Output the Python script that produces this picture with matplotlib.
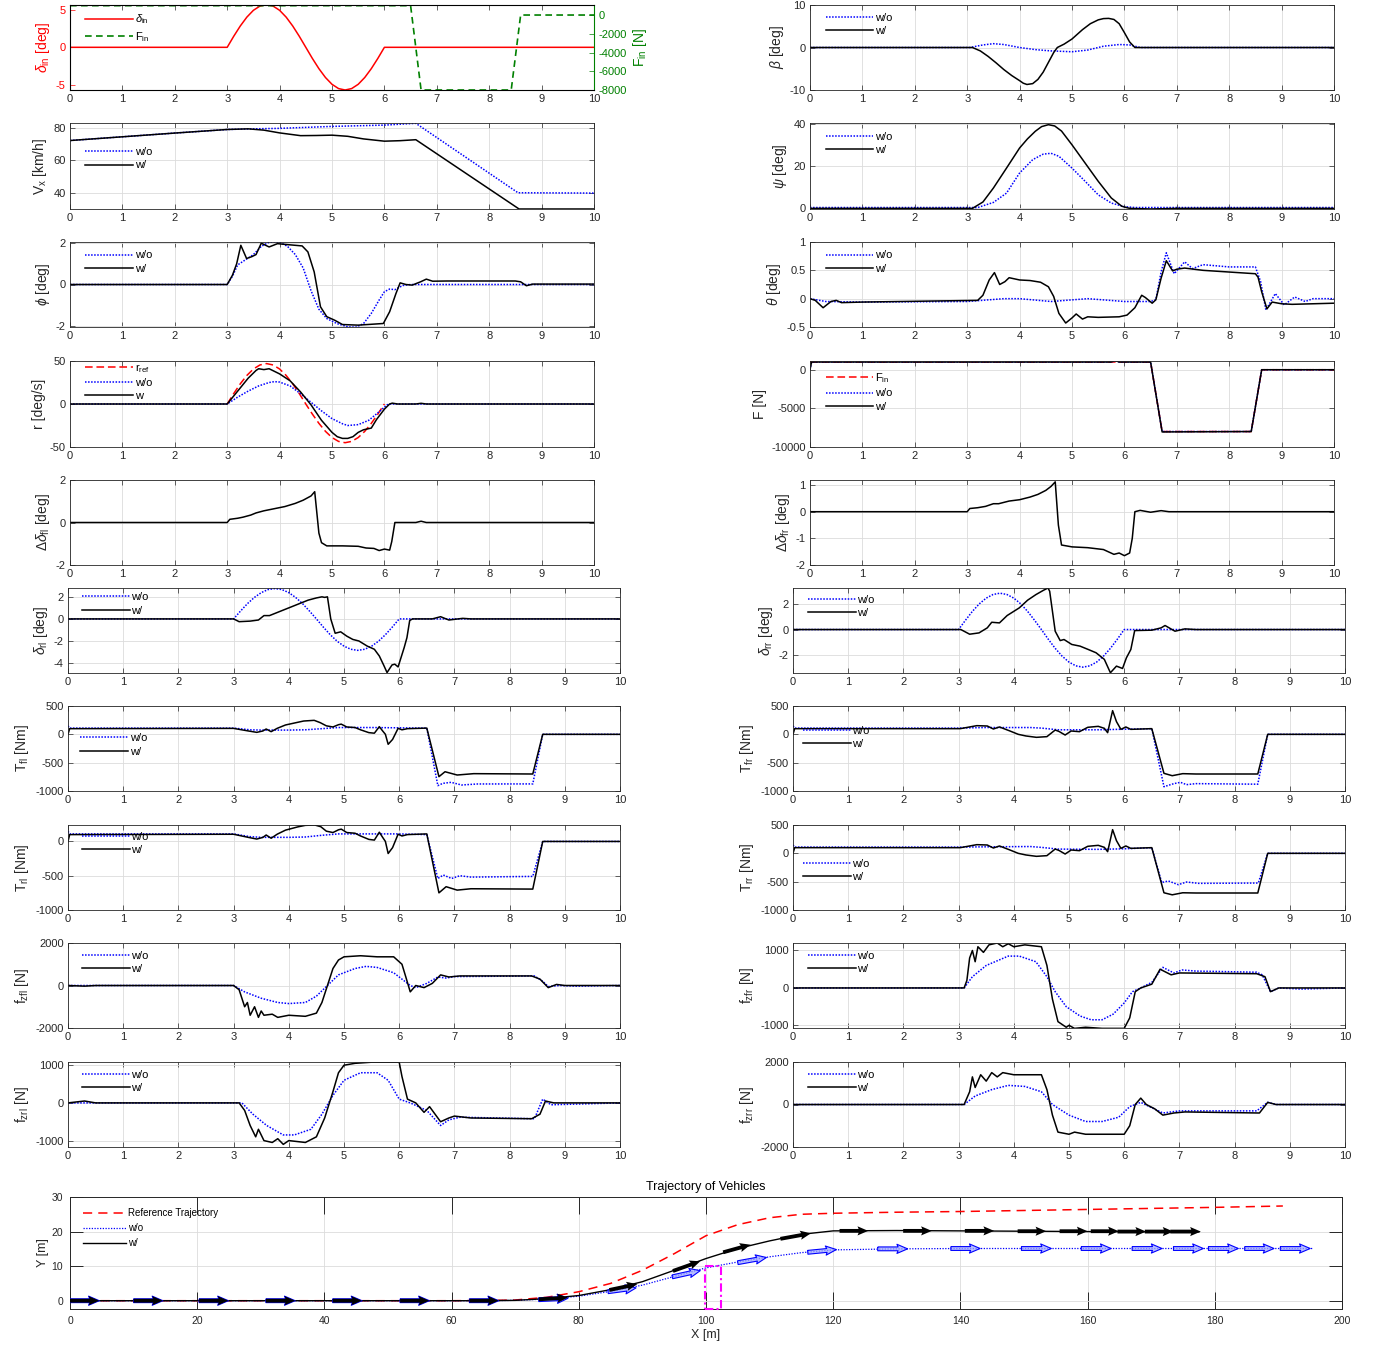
import matplotlib
matplotlib.use('Agg')
import matplotlib.pyplot as plt
from matplotlib.ticker import FuncFormatter

plt.rcParams['font.family'] = ['Liberation Sans', 'DejaVu Sans']
plt.rcParams['mathtext.fontset'] = 'custom'
plt.rcParams['mathtext.rm'] = 'Liberation Sans'
plt.rcParams['mathtext.it'] = 'Liberation Sans:italic'
plt.rcParams['mathtext.bf'] = 'Liberation Sans:bold'
plt.rcParams['axes.unicode_minus'] = False

# ---------------- data ----------------
t_sine = [3.0, 3.125, 3.25, 3.375, 3.5, 3.625, 3.75, 3.875, 4.0, 4.125, 4.25, 4.375, 4.5,
          4.625, 4.75, 4.875, 5.0, 5.125, 5.25, 5.375, 5.5, 5.625, 5.75, 5.875, 6.0]
d_in = [0, 1.48, 2.85, 4.03, 4.94, 5.51, 5.7, 5.51, 4.94, 4.03, 2.85, 1.48, 0,
        -1.48, -2.85, -4.03, -4.94, -5.51, -5.7, -5.51, -4.94, -4.03, -2.85, -1.48, 0]
r_ref = [0, 12.2, 23.5, 33.2, 40.7, 45.4, 47, 45.4, 40.7, 33.2, 23.5, 12.2, 0,
         -11.7, -22.5, -31.8, -39.0, -43.5, -45, -43.5, -39.0, -31.8, -22.5, -11.7, 0]
drl_wo = [0, 0.71, 1.38, 1.94, 2.38, 2.66, 2.75, 2.66, 2.38, 1.94, 1.38, 0.71, 0,
          -0.74, -1.43, -2.02, -2.47, -2.75, -2.85, -2.75, -2.47, -2.02, -1.43, -0.74, 0]
drr_wo = [0, 0.72, 1.4, 1.98, 2.42, 2.7, 2.8, 2.7, 2.42, 1.98, 1.4, 0.72, 0,
          -0.75, -1.45, -2.05, -2.51, -2.8, -2.9, -2.8, -2.51, -2.05, -1.45, -0.75, 0]

Fin_t = [0, 6.5, 6.7, 8.42, 8.6, 10]
Fin = [1000, 1000, -8000, -8000, 0, 0]

vx_wo_t = [0, 1, 2, 3, 3.5, 4, 4.5, 5, 5.5, 6, 6.6, 8.55, 10]
vx_wo = [72.2, 74.5, 76.8, 79.0, 79.4, 79.7, 80.3, 80.9, 81.3, 81.7, 82.8, 40.0, 39.8]
vx_w_t = [0, 1, 2, 3, 3.4, 3.7, 4.0, 4.4, 4.7, 5.0, 5.3, 5.6, 6.0, 6.3, 6.6, 8.57, 10]
vx_w = [72.2, 74.5, 76.8, 79.0, 79.4, 78.6, 76.9, 75.2, 75.3, 75.5, 74.8, 73.2, 71.8, 72.1, 72.7, 30.0, 30.0]

phi_wo_t = [0, 3.0, 3.1, 3.2, 3.35, 3.5, 3.65, 3.8, 3.9, 4.0, 4.15, 4.3, 4.45, 4.6, 4.75, 4.9,
            5.1, 5.3, 5.45, 5.6, 5.75, 5.9, 6.0, 6.1, 6.2, 6.35, 6.5, 10]
phi_wo = [0, 0, 0.4, 0.95, 1.2, 1.45, 1.85, 2.05, 2.07, 2.05, 1.85, 1.45, 0.8, -0.3, -1.2, -1.65,
          -1.9, -2.05, -2.07, -1.9, -1.4, -0.75, -0.35, -0.22, -0.25, -0.05, 0, 0]
phi_w_t = [0, 3.0, 3.1, 3.18, 3.26, 3.37, 3.47, 3.55, 3.65, 3.8, 3.96, 4.12, 4.43, 4.54, 4.66, 4.78,
           4.9, 5.05, 5.2, 5.5, 5.98, 6.1, 6.22, 6.3, 6.41, 6.53, 6.69, 6.8, 6.92, 7.2, 8.5, 8.6,
           8.71, 8.83, 10]
phi_w = [0, 0, 0.45, 1.0, 1.9, 1.26, 1.35, 1.45, 2.0, 1.82, 1.98, 1.94, 1.87, 1.58, 0.61, -1.08,
         -1.56, -1.73, -1.94, -1.97, -1.89, -1.32, -0.44, 0.08, 0, -0.03, 0.13, 0.26, 0.16, 0.17,
         0.17, 0.13, -0.06, 0.02, 0.02]

r_wo_t = [0, 3.0, 3.2, 3.4, 3.6, 3.8, 3.9, 4.0, 4.2, 4.4, 4.6, 4.8, 5.0, 5.2, 5.3, 5.5, 5.7,
          5.9, 6.05, 6.1, 10]
r_wo = [0, 0, 8, 15, 21, 25, 26, 25.5, 21, 12, 2, -8, -17, -23, -25, -24, -19, -9, -1, 0, 0]
r_w_t = [0, 3.0, 3.2, 3.4, 3.55, 3.6, 3.7, 3.8, 3.9, 4.0, 4.2, 4.4, 4.6, 4.8, 5.0, 5.1, 5.2,
         5.3, 5.4, 5.5, 5.6, 5.75, 5.85, 6.0, 6.1, 6.15, 6.25, 6.6, 6.7, 6.8, 10]
r_w = [0, 0, 15, 30, 39, 41, 40, 41, 38, 35, 27, 14, -1, -19, -33, -38, -40, -40, -38, -33, -30,
       -28, -18, -6, 0, 1, 0, 0, 0.8, 0, 0]

ddfl_t = [0, 3.0, 3.05, 3.2, 3.3, 3.45, 3.55, 3.7, 3.9, 4.1, 4.3, 4.45, 4.6, 4.67, 4.75, 4.8,
          4.9, 5.2, 5.5, 5.65, 5.8, 5.9, 6.0, 6.1, 6.14, 6.2, 6.6, 6.7, 6.8, 10]
ddfl = [0, 0, 0.15, 0.2, 0.25, 0.35, 0.45, 0.55, 0.65, 0.75, 0.9, 1.05, 1.25, 1.45, -0.5, -0.95,
        -1.1, -1.1, -1.12, -1.2, -1.22, -1.32, -1.25, -1.3, -0.9, 0, 0, 0.06, 0, 0]

beta_wo_t = [0, 3.05, 3.3, 3.5, 3.7, 4.0, 4.3, 4.6, 5.0, 5.3, 5.6, 5.9, 6.1, 6.3, 10]
beta_wo = [0, 0, 0.6, 0.9, 0.7, 0, -0.5, -0.8, -1.0, -0.6, 0.3, 0.7, 0.6, 0, 0]
beta_w_t = [0, 3.1, 3.25, 3.4, 3.55, 3.7, 3.85, 4.0, 4.07, 4.14, 4.25, 4.35, 4.45, 4.55, 4.65,
            4.72, 4.85, 5.0, 5.2, 5.35, 5.5, 5.6, 5.7, 5.8, 5.9, 6.0, 6.1, 6.2, 10]
beta_w = [0, 0, -0.8, -2.1, -3.6, -5.2, -6.6, -7.8, -8.4, -8.7, -8.5, -7.5, -5.8, -3.5, -1.2,
          0, 0.8, 2.0, 4.2, 5.6, 6.5, 6.8, 6.85, 6.6, 5.6, 3.5, 1.3, 0, 0]

psi_wo_t = [0, 3.2, 3.5, 3.75, 4.0, 4.25, 4.45, 4.6, 4.75, 5.0, 5.25, 5.5, 5.75, 6.0, 6.2, 10]
psi_wo = [0.4, 0.4, 2.8, 7.2, 16.7, 23, 25.6, 26, 24.6, 19, 12.8, 6.4, 2.5, 0.8, 0.4, 0.4]
psi_w_t = [0, 3.1, 3.3, 3.5, 3.75, 4.0, 4.15, 4.3, 4.42, 4.55, 4.67, 4.8, 5.0, 5.25, 5.5, 5.75,
           5.95, 6.1, 6.5, 7.0, 10]
psi_w = [0, 0, 3, 9.6, 19, 28.5, 32.8, 36.4, 38.6, 39.5, 38.9, 36.5, 30, 21.4, 12.8, 4.9, 1.0,
         0, -0.3, 0, 0]

theta_wo_t = [0, 0.3, 1.0, 3.0, 3.7, 4.0, 4.6, 5.3, 6.0, 6.5, 6.6, 6.7, 6.8, 6.95, 7.15, 7.3,
              7.5, 8.0, 8.5, 8.6, 8.7, 8.88, 9.05, 9.25, 9.45, 9.6, 10]
theta_wo = [0, -0.05, -0.06, -0.05, 0, 0, -0.05, 0, -0.05, -0.05, -0.02, 0.47, 0.81, 0.44, 0.65,
            0.53, 0.6, 0.56, 0.56, 0.3, -0.2, 0.09, -0.11, 0.03, -0.05, 0, 0]
theta_w_t = [0, 0.1, 0.25, 0.4, 0.5, 0.6, 1.0, 3.2, 3.3, 3.42, 3.52, 3.62, 3.72, 3.8, 4.0, 4.2,
             4.4, 4.55, 4.65, 4.75, 4.88, 5.0, 5.08, 5.2, 5.3, 5.5, 5.9, 6.05, 6.2, 6.33, 6.4,
             6.53, 6.6, 6.7, 6.8, 6.92, 7.0, 7.15, 7.5, 8.5, 8.55, 8.62, 8.72, 8.82, 9.0, 9.2, 10]
theta_w = [0, -0.03, -0.16, -0.05, -0.03, -0.07, -0.06, -0.03, 0.06, 0.33, 0.46, 0.25, 0.3, 0.37,
           0.33, 0.32, 0.29, 0.21, 0.04, -0.26, -0.43, -0.34, -0.27, -0.36, -0.32, -0.33, -0.32,
           -0.29, -0.16, 0.06, 0.02, -0.08, -0.02, 0.36, 0.67, 0.49, 0.52, 0.54, 0.5, 0.44, 0.38,
           0.12, -0.18, -0.06, -0.09, -0.1, -0.08]

F_t = [0, 0.03, 5.75, 5.82, 5.9, 6.5, 6.72, 8.42, 8.62, 10]
F_ref = [1000, 1000, 1000, 1000, 1000, 1000, -8000, -8000, 0, 0]
F_wo = [0, 1000, 1000, 1150, 1000, 1000, -8000, -8000, 0, 0]
F_w = [0, 1000, 1000, 1200, 1000, 1000, -8050, -8000, 0, 0]

ddfr_t = [0, 3.0, 3.05, 3.2, 3.35, 3.5, 3.6, 3.8, 4.0, 4.2, 4.35, 4.5, 4.6, 4.68, 4.74, 4.8,
          5.0, 5.3, 5.6, 5.8, 5.9, 6.0, 6.1, 6.15, 6.2, 6.3, 6.5, 6.7, 6.85, 10]
ddfr = [0, 0, 0.12, 0.15, 0.2, 0.3, 0.3, 0.4, 0.45, 0.55, 0.65, 0.8, 0.95, 1.12, -0.5, -1.25,
        -1.32, -1.35, -1.42, -1.6, -1.55, -1.65, -1.55, -1.0, 0, 0.05, -0.02, 0.04, 0, 0]

drl_w_t = [0, 3.0, 3.1, 3.3, 3.45, 3.55, 3.65, 3.75, 3.9, 4.05, 4.2, 4.35, 4.5, 4.6, 4.65, 4.7,
           4.76, 4.84, 4.94, 5.05, 5.16, 5.27, 5.42, 5.55, 5.64, 5.72, 5.78, 5.87, 5.92, 5.98,
           6.09, 6.14, 6.19, 6.24, 6.6, 6.75, 6.9, 7.15, 7.3, 10]
drl_w = [0, 0, -0.25, -0.2, -0.1, 0.3, 0.3, 0.5, 0.8, 1.1, 1.4, 1.7, 1.9, 2.0, 1.95, 2.0,
         0, -1.3, -1.17, -1.56, -1.86, -2.0, -2.46, -2.75, -3.36, -4.2, -4.86, -4.17, -4.1, -4.35,
         -2.6, -1.7, -0.15, 0, 0, 0.2, -0.1, 0.05, 0, 0]

drr_w_t = [0, 3.04, 3.2, 3.37, 3.52, 3.6, 3.74, 3.88, 4.1, 4.25, 4.4, 4.54, 4.62, 4.65, 4.7,
           4.75, 4.84, 4.91, 5.05, 5.2, 5.35, 5.49, 5.64, 5.75, 5.86, 5.97, 6.04, 6.12, 6.19,
           6.5, 6.67, 6.74, 6.92, 7.1, 7.3, 10]
drr_w = [0, 0, -0.36, -0.26, 0.13, 0.56, 0.51, 1.08, 1.67, 2.26, 2.69, 3.03, 3.2, 2.95, 1.41,
         -0.13, -0.85, -0.77, -1.15, -1.28, -1.54, -1.79, -2.3, -3.33, -2.82, -3.0, -2.18, -1.54,
         -0.08, -0.05, 0.13, 0.31, -0.13, 0.05, 0, 0]

Tfl_wo_t = [0, 0.03, 3.0, 3.3, 3.5, 4.0, 4.3, 4.6, 4.9, 5.5, 6.0, 6.5, 6.7, 6.79, 6.94, 7.13,
            7.42, 8.42, 8.6, 10]
Tfl_wo = [150, 110, 110, 80, 75, 75, 80, 100, 120, 120, 115, 110, -905, -865, -847, -894,
          -876, -875, 0, 0]
Tfl_w_t = [0, 0.03, 3.0, 3.27, 3.42, 3.53, 3.59, 3.68, 3.79, 3.94, 4.16, 4.27, 4.46, 4.57,
           4.68, 4.8, 4.9, 4.95, 5.05, 5.2, 5.3, 5.45, 5.55, 5.64, 5.7, 5.75, 5.8, 5.88, 5.98,
           6.05, 6.15, 6.5, 6.72, 6.83, 7.05, 7.35, 8.42, 8.6, 10]
Tfl_w = [0, 100, 105, 59, 35, 59, 94, 47, 106, 165, 212, 235, 247, 206, 150, 130, 170, 180, 130,
         120, 80, 30, 20, 135, 60, 0, -176, -90, 106, 80, 100, 110, -747, -660, -718, -694, -700,
         0, 0]

Trl_wo_t = [0, 0.03, 3.0, 3.3, 3.5, 4.0, 4.3, 4.6, 4.9, 5.5, 6.0, 6.5, 6.7, 6.8, 6.95, 7.1,
            7.3, 8.42, 8.6, 10]
Trl_wo = [150, 110, 110, 70, 60, 60, 65, 90, 110, 110, 110, 100, -540, -490, -540, -500, -520,
          -510, 0, 0]
Trl_w_t = [0, 0.03, 3.0, 3.27, 3.42, 3.53, 3.59, 3.68, 3.79, 3.94, 4.16, 4.3, 4.47, 4.58, 4.68,
           4.8, 4.9, 4.95, 5.05, 5.2, 5.3, 5.45, 5.55, 5.64, 5.7, 5.75, 5.8, 5.88, 5.98, 6.05,
           6.15, 6.5, 6.72, 6.85, 7.05, 7.3, 8.42, 8.6, 10]
Trl_w = [0, 100, 105, 59, 35, 59, 94, 47, 106, 165, 212, 235, 240, 215, 150, 130, 170, 180, 130,
         120, 80, 30, 20, 135, 60, 0, -176, -90, 106, 80, 100, 110, -750, -660, -710, -690, -695,
         0, 0]

Tfr_wo_t = [0, 0.03, 3.0, 3.5, 4.3, 4.5, 4.8, 5.5, 6.0, 6.5, 6.72, 6.9, 7.02, 7.13, 7.3, 8.42,
            8.6, 10]
Tfr_wo = [150, 110, 110, 120, 120, 110, 80, 80, 90, 100, -924, -870, -847, -888, -870, -880,
          0, 0]
Tfr_w_t = [0, 0.03, 3.03, 3.33, 3.52, 3.63, 3.74, 3.93, 4.08, 4.22, 4.41, 4.6, 4.75, 4.82, 4.93,
           5.04, 5.19, 5.34, 5.53, 5.64, 5.7, 5.79, 5.86, 5.94, 6.03, 6.12, 6.5, 6.72, 6.87, 7.06,
           7.3, 8.42, 8.6, 10]
Tfr_w = [0, 100, 100, 153, 147, 94, 130, 59, 0, -29, -53, -41, 76, 50, -12, 59, 47, 124, 141,
         106, 29, 418, 224, 88, 130, 88, 100, -688, -730, -694, -700, -700, 0, 0]

Trr_wo_t = [0, 0.03, 3.0, 3.5, 4.3, 4.5, 4.8, 5.5, 6.0, 6.5, 6.68, 6.8, 6.98, 7.13, 7.35, 8.43,
            8.6, 10]
Trr_wo = [150, 110, 110, 115, 120, 105, 75, 70, 80, 100, -515, -488, -553, -506, -530, -524,
          0, 0]
Trr_w_t = [0, 0.03, 3.03, 3.33, 3.52, 3.63, 3.74, 3.93, 4.08, 4.22, 4.41, 4.6, 4.75, 4.82, 4.93,
           5.04, 5.19, 5.34, 5.53, 5.64, 5.7, 5.79, 5.86, 5.94, 6.03, 6.12, 6.5, 6.72, 6.87, 7.06,
           7.3, 8.42, 8.6, 10]
Trr_w = [0, 100, 100, 153, 147, 94, 130, 59, 0, -29, -53, -41, 76, 50, -12, 59, 47, 124, 141,
         106, 29, 418, 224, 88, 130, 88, 100, -696, -732, -696, -700, -700, 0, 0]

fzfl_wo_t = [0, 3.0, 3.2, 3.5, 3.8, 4.0, 4.3, 4.5, 4.7, 4.9, 5.2, 5.4, 5.6, 5.9, 6.1, 6.2, 6.3,
             6.5, 6.7, 6.85, 7.0, 8.45, 8.6, 8.7, 8.9, 9.2, 10]
fzfl_wo = [0, 0, -300, -600, -800, -850, -800, -500, 0, 500, 800, 900, 850, 600, 200, 0, -100,
           100, 400, 350, 420, 450, 200, -50, 0, -30, 0]
fzfl_w_t = [0, 0.3, 0.5, 3.0, 3.1, 3.2, 3.25, 3.3, 3.38, 3.45, 3.5, 3.55, 3.7, 3.8, 4.0, 4.3,
            4.5, 4.6, 4.7, 4.8, 4.9, 5.0, 5.3, 5.6, 5.9, 6.05, 6.12, 6.2, 6.3, 6.45, 6.6, 6.75,
            6.9, 7.1, 8.4, 8.55, 8.7, 8.85, 9.0, 10]
fzfl_w = [0, -30, 0, 0, -200, -1000, -800, -1400, -1000, -1500, -1200, -1400, -1350, -1500,
          -1400, -1450, -1300, -800, 0, 800, 1200, 1350, 1400, 1350, 1350, 1000, 400, -300, 0,
          -100, 100, 500, 400, 450, 450, 300, -100, 50, 0, 0]

fzfr_wo_t = [0, 3.1, 3.25, 3.5, 3.9, 4.1, 4.4, 4.6, 4.75, 4.95, 5.2, 5.4, 5.6, 5.8, 6.0, 6.15,
             6.3, 6.5, 6.7, 6.9, 7.05, 7.3, 8.4, 8.5, 8.65, 8.8, 9.2, 10]
fzfr_wo = [0, 0, 300, 600, 850, 850, 700, 300, -100, -500, -750, -850, -850, -700, -400, -100,
           0, 150, 550, 400, 480, 450, 420, 350, -100, 0, -30, 0]
fzfr_w_t = [0, 3.1, 3.15, 3.2, 3.25, 3.3, 3.35, 3.45, 3.55, 3.7, 3.8, 3.9, 4.0, 4.2, 4.5, 4.6,
            4.7, 4.8, 4.95, 5.0, 5.1, 5.3, 5.6, 6.0, 6.1, 6.2, 6.3, 6.5, 6.65, 6.85, 7.0, 8.4,
            8.55, 8.65, 8.8, 10]
fzfr_w = [0, 0, 200, 800, 1000, 700, 1100, 950, 1150, 1200, 1100, 1180, 1100, 1150, 1100, 600,
          -300, -900, -1050, -1000, -1080, -1050, -1080, -1080, -800, -100, 0, 100, 500, 350,
          400, 380, 300, -100, 0, 0]

fzrl_wo_t = [0, 3.15, 3.35, 3.6, 3.9, 4.1, 4.4, 4.6, 4.8, 5.0, 5.3, 5.6, 5.8, 6.0, 6.2, 6.5,
             6.75, 6.9, 7.1, 8.45, 8.6, 8.75, 10]
fzrl_wo = [0, 0, -300, -600, -850, -850, -700, -300, 200, 600, 800, 800, 600, 100, 0, -200,
           -600, -450, -380, -420, 100, -50, 0]
fzrl_w_t = [0, 0.3, 0.5, 3.1, 3.2, 3.3, 3.4, 3.45, 3.55, 3.7, 3.8, 3.9, 4.0, 4.3, 4.5, 4.65,
            4.8, 4.9, 5.0, 5.2, 5.5, 6.0, 6.05, 6.15, 6.3, 6.45, 6.55, 6.75, 6.9, 7.0, 7.3, 8.4,
            8.55, 8.65, 8.8, 10]
fzrl_w = [0, 50, 0, 0, -200, -600, -900, -700, -1000, -1050, -950, -1100, -1000, -1050, -900,
          -400, 300, 800, 1000, 1050, 1080, 1080, 700, 100, 0, -250, -100, -500, -400, -350,
          -400, -420, -300, 50, 0, 0]

fzrr_wo_t = [0, 3.1, 3.3, 3.6, 3.9, 4.2, 4.5, 4.7, 5.0, 5.3, 5.6, 5.9, 6.1, 6.3, 6.5, 6.7, 7.0,
             8.4, 8.6, 8.75, 10]
fzrr_wo = [0, 0, 400, 700, 900, 850, 600, 0, -500, -800, -800, -600, -100, 100, -150, -400,
           -300, -300, 100, 0, 0]
fzrr_w_t = [0, 3.1, 3.2, 3.25, 3.3, 3.4, 3.5, 3.6, 3.7, 3.8, 4.0, 4.5, 4.6, 4.7, 4.8, 5.0, 5.1,
            5.3, 6.0, 6.1, 6.2, 6.3, 6.4, 6.55, 6.7, 6.9, 7.1, 8.45, 8.6, 8.75, 10]
fzrr_w = [0, 0, 600, 1300, 800, 1400, 1100, 1500, 1300, 1500, 1400, 1400, 700, -500, -1300,
          -1400, -1300, -1400, -1400, -1000, 0, 300, 0, -200, -500, -400, -350, -400, 100, 0, 0]

# trajectory
ref_x = [0, 60, 65, 70, 75, 80, 85, 90, 95, 100, 105, 110, 115, 120, 130, 140, 150, 160, 170,
         180, 190.7]
ref_y = [0, 0, 0.05, 0.2, 1.0, 2.6, 5.0, 8.8, 13.6, 18.8, 22.0, 24.0, 25.0, 25.3, 25.6, 25.8,
         26.1, 26.4, 26.7, 27.0, 27.4]
trw_x = [0, 65, 70, 75, 80, 85, 90, 95, 100, 105, 110, 115, 120, 130, 140, 150, 160, 170, 177.5]
trw_y = [0, 0, 0.1, 0.6, 1.5, 3.2, 5.5, 8.8, 12.2, 15.1, 17.3, 19.2, 20.2, 20.3, 20.2, 20.1,
         20.0, 19.95, 19.9]
trwo_x = [0, 65, 70, 75, 80, 85, 90, 95, 100, 105, 110, 115, 120, 130, 140, 160, 180, 195.5]
trwo_y = [0, 0, 0.1, 0.5, 1.3, 2.7, 4.5, 7.0, 9.5, 11.2, 12.7, 13.9, 14.7, 15.0, 15.1, 15.1,
          15.1, 15.1]
arw_x = [0, 10, 20.3, 30.8, 41.3, 51.9, 62.8, 73.7, 84.8, 94.8, 102.7, 111.7, 121, 131, 140.7,
         149, 155.6, 160.5, 164.7, 169, 173]
arw_y = [0, 0, 0, 0, 0, 0, 0, 0.4, 3.1, 8.6, 14.0, 17.9, 20.2, 20.2, 20.2, 20.1, 20.1, 20.1,
         20.0, 20.0, 20.0]
arw_u = [4.6, 4.6, 4.6, 4.6, 4.6, 4.6, 4.6, 4.6, 4.4, 4.3, 4.3, 4.8, 4.5, 4.5, 4.6, 4.5, 4.4,
         4.4, 4.5, 4.5, 4.8]
arw_v = [0, 0, 0, 0, 0, 0, 0, 0.5, 1.7, 2.8, 2.2, 1.6, 0, 0, 0, 0, 0, 0, 0, 0, 0]
arwo_x = [0, 10, 20.3, 30.8, 41.3, 51.9, 62.8, 73.7, 84.6, 94.7, 105, 116, 127, 138.5, 149.6,
          159, 167, 173.5, 179, 184.7, 190.3]
arwo_y = [0, 0, 0, 0, 0, 0, 0, 0.3, 2.6, 6.9, 11.0, 14.0, 15.0, 15.1, 15.1, 15.1, 15.1, 15.1,
          15.1, 15.1, 15.1]
arwo_u = [4.6, 4.6, 4.6, 4.6, 4.6, 4.6, 4.6, 4.6, 4.4, 4.4, 4.5, 4.5, 4.7, 4.6, 4.7, 4.7, 4.7,
          4.7, 4.7, 4.6, 4.7]
arwo_v = [0, 0, 0, 0, 0, 0, 0, 0.4, 1.1, 1.8, 1.5, 0.8, 0, 0, 0, 0, 0, 0, 0, 0, 0]
obst_x = [99.8, 102.3, 102.3, 99.8, 99.8]
obst_y = [-2.4, -2.4, 10, 10, -2.4]

# ---------------- figure ----------------
W, H = 1375, 1346
fig = plt.figure(figsize=(W / 100, H / 100), dpi=100)
fmt = FuncFormatter(lambda v, p: f'{v:g}')
DARK = '#262626'
rows = [(5, 90), (123, 209), (242, 327), (361, 447), (480, 565),
        (588, 673), (706, 791), (825, 910), (943, 1028), (1062, 1147)]


def box(x0, y0, x1, y1):
    return [x0 / W, 1 - y1 / H, (x1 - x0) / W, (y1 - y0) / H]


def make_ax(col, row, ylim, yticks, ylabel, grid=True):
    y0, y1 = rows[row]
    if col == 0:
        x0, x1 = (70, 594) if row < 5 else (68, 620)
    else:
        x0, x1 = (810, 1334) if row < 5 else (793, 1345)
    ax = fig.add_axes(box(x0, y0, x1, y1))
    for s in ax.spines.values():
        s.set_color(DARK)
        s.set_linewidth(0.6)
    ax.tick_params(direction='in', length=3.5, width=0.5, top=True, right=True,
                   labelsize=8, colors=DARK, pad=3)
    ax.xaxis.set_major_formatter(fmt)
    ax.yaxis.set_major_formatter(fmt)
    if grid:
        ax.grid(True, color='#dcdcdc', lw=0.6)
    ax.set_axisbelow(True)
    ax.set_xlim(0, 10)
    ax.set_xticks(range(11))
    ax.set_ylim(*ylim)
    ax.set_yticks(yticks)
    ax.set_ylabel(ylabel, fontsize=10, color=DARK, labelpad=3)
    return ax


def wo(ax, t, y, label='w/o'):
    ax.plot(t, y, color='blue', ls=(0, (1, 1)), lw=1.1, label=label)


def w(ax, t, y, label='w/'):
    ax.plot(t, y, color='black', lw=1.1, label=label)


def leg(ax, x, y, handles=None, labels=None):
    kw = dict(loc='upper left', bbox_to_anchor=(x, y), frameon=False, fontsize=8,
              handlelength=4.3, handletextpad=0.15, labelspacing=0.3, borderpad=0,
              borderaxespad=0)
    if handles is None:
        ax.legend(**kw)
    else:
        ax.legend(handles, labels, **kw)


# row 1 left: delta_in / F_in
ax = make_ax(0, 0, (-5.7, 5.65), [-5, 0, 5], r'$\delta_{\rm in}$ [deg]', grid=False)
ax.yaxis.label.set_color('red')
ax.tick_params(axis='y', colors='red', right=False)
l1, = ax.plot([0] + t_sine + [10], [0] + d_in + [0], color='red', lw=1.1)
ax2 = ax.twinx()
ax2.set_ylim(-8000, 1070)
ax2.set_yticks(range(-8000, 1, 2000))
ax2.yaxis.set_major_formatter(fmt)
ax2.tick_params(axis='y', direction='in', length=3.5, width=0.5, colors='green', labelsize=8)
ax2.spines['right'].set_color('green')
ax2.set_ylabel(r'F$_{\rm in}$ [N]', fontsize=10, color='green', labelpad=3)
l2, = ax2.plot(Fin_t, Fin, color='green', ls=(0, (4, 2.6)), lw=1.2)
leg(ax2, 0.029, 0.91, [l1, l2], [r'$\delta_{\rm in}$', r'F$_{\rm in}$'])

# row 2 left: Vx
ax = make_ax(0, 1, (30, 83), [40, 60, 80], r'V$_{\rm x}$ [km/h]')
wo(ax, vx_wo_t, vx_wo)
w(ax, vx_w_t, vx_w)
leg(ax, 0.029, 0.72)

# row 3 left: phi
ax = make_ax(0, 2, (-2.06, 2.06), [-2, 0, 2], r'$\phi$ [deg]')
wo(ax, phi_wo_t, phi_wo)
w(ax, phi_w_t, phi_w)
leg(ax, 0.029, 0.9)

# row 4 left: r
ax = make_ax(0, 3, (-50, 50), [-50, 0, 50], 'r [deg/s]')
ax.plot(t_sine, r_ref, color='red', ls=(0, (5, 2.5)), lw=1.1, label=r'r$_{\rm ref}$')
wo(ax, r_wo_t, r_wo)
w(ax, r_w_t, r_w, label='w')
leg(ax, 0.029, 0.99)

# row 5 left: delta delta fl
ax = make_ax(0, 4, (-2, 2), [-2, 0, 2], r'$\Delta\delta_{\rm fl}$ [deg]')
w(ax, ddfl_t, ddfl)

# row 6 left: delta rl
ax = make_ax(0, 5, (-4.9, 2.8), [-4, -2, 0, 2], r'$\delta_{\rm rl}$ [deg]')
wo(ax, [0] + t_sine + [10], [0] + drl_wo + [0])
w(ax, drl_w_t, drl_w)
leg(ax, 0.025, 0.95)

# row 7 left: T_fl
ax = make_ax(0, 6, (-1000, 500), [-1000, -500, 0, 500], r'T$_{\rm fl}$ [Nm]')
wo(ax, Tfl_wo_t, Tfl_wo)
w(ax, Tfl_w_t, Tfl_w)
leg(ax, 0.022, 0.68)

# row 8 left: T_rl
ax = make_ax(0, 7, (-1000, 240), [-1000, -500, 0], r'T$_{\rm rl}$ [Nm]')
wo(ax, Trl_wo_t, Trl_wo)
w(ax, Trl_w_t, Trl_w)
leg(ax, 0.025, 0.92)

# row 9 left: f_zfl
ax = make_ax(0, 8, (-2000, 2000), [-2000, 0, 2000], r'f$_{\rm zfl}$ [N]')
wo(ax, fzfl_wo_t, fzfl_wo)
w(ax, fzfl_w_t, fzfl_w)
leg(ax, 0.025, 0.91)

# row 10 left: f_zrl
ax = make_ax(0, 9, (-1170, 1085), [-1000, 0, 1000], r'f$_{\rm zrl}$ [N]')
wo(ax, fzrl_wo_t, fzrl_wo)
w(ax, fzrl_w_t, fzrl_w)
leg(ax, 0.025, 0.91)

# right column
ax = make_ax(1, 0, (-10, 10), [-10, 0, 10], r'$\beta$ [deg]')
wo(ax, beta_wo_t, beta_wo)
w(ax, beta_w_t, beta_w)
leg(ax, 0.03, 0.91)

ax = make_ax(1, 1, (-0.3, 40.3), [0, 20, 40], r'$\psi$ [deg]')
wo(ax, psi_wo_t, psi_wo)
w(ax, psi_w_t, psi_w)
leg(ax, 0.03, 0.9)

ax = make_ax(1, 2, (-0.5, 1), [-0.5, 0, 0.5, 1], r'$\theta$ [deg]')
wo(ax, theta_wo_t, theta_wo)
w(ax, theta_w_t, theta_w)
leg(ax, 0.03, 0.9)

ax = make_ax(1, 3, (-10000, 1130), [-10000, -5000, 0], 'F [N]')
ax.plot(F_t, F_ref, color='red', ls=(0, (5, 2.5)), lw=1.1, label=r'F$_{\rm in}$')
wo(ax, F_t, F_wo)
w(ax, F_t, F_w)
leg(ax, 0.03, 0.88)

ax = make_ax(1, 4, (-2, 1.19), [-2, -1, 0, 1], r'$\Delta\delta_{\rm fr}$ [deg]')
w(ax, ddfr_t, ddfr)

ax = make_ax(1, 5, (-3.35, 3.2), [-2, 0, 2], r'$\delta_{\rm rr}$ [deg]')
wo(ax, [0] + t_sine + [10], [0] + drr_wo + [0])
w(ax, drr_w_t, drr_w)
leg(ax, 0.027, 0.92)

ax = make_ax(1, 6, (-1000, 500), [-1000, -500, 0, 500], r'T$_{\rm fr}$ [Nm]')
wo(ax, Tfr_wo_t, Tfr_wo)
w(ax, Tfr_w_t, Tfr_w)
leg(ax, 0.018, 0.77)

ax = make_ax(1, 7, (-1000, 500), [-1000, -500, 0, 500], r'T$_{\rm rr}$ [Nm]')
wo(ax, Trr_wo_t, Trr_wo)
w(ax, Trr_w_t, Trr_w)
leg(ax, 0.018, 0.6)

ax = make_ax(1, 8, (-1070, 1200), [-1000, 0, 1000], r'f$_{\rm zfr}$ [N]')
wo(ax, fzfr_wo_t, fzfr_wo)
w(ax, fzfr_w_t, fzfr_w)
leg(ax, 0.027, 0.91)

ax = make_ax(1, 9, (-2000, 2000), [-2000, 0, 2000], r'f$_{\rm zrr}$ [N]')
wo(ax, fzrr_wo_t, fzrr_wo)
w(ax, fzrr_w_t, fzrr_w)
leg(ax, 0.027, 0.91)

# ---------------- trajectory ----------------
axt = fig.add_axes(box(70, 1197, 1342, 1309))
for s in axt.spines.values():
    s.set_color(DARK)
    s.set_linewidth(0.7)
axt.tick_params(direction='in', width=0.7, top=True, right=True, labelsize=7.5,
                colors=DARK, pad=5)
axt.tick_params(axis='x', length=12)
axt.tick_params(axis='y', length=9.5)
axt.grid(True, color='#dcdcdc', lw=0.6)
axt.set_axisbelow(True)
axt.set_xlim(0, 200)
axt.set_ylim(-2.4, 30)
axt.set_xticks(range(0, 201, 20))
axt.set_yticks([0, 10, 20, 30])
axt.xaxis.set_major_formatter(fmt)
axt.set_xlabel('X [m]', fontsize=9, color=DARK, labelpad=2)
axt.set_ylabel('Y [m]', fontsize=9, color=DARK, labelpad=2)
axt.set_title('Trajectory of Vehicles', fontsize=9, color='black', pad=5)

axt.plot(ref_x, ref_y, color='red', ls=(0, (6, 4)), lw=1.1, label='Reference Trajectory')
axt.plot(trwo_x, trwo_y, color='blue', ls=(0, (1, 1.2)), lw=0.9, label='w/o')
axt.plot(trw_x, trw_y, color='black', lw=1.0, label='w/')
axt.quiver(arwo_x, arwo_y, arwo_u, arwo_v, angles='xy', scale_units='xy', scale=1,
           width=0.003, headwidth=2.4, headlength=2.8, headaxislength=2.5,
           facecolor=(0.62, 0.66, 1.0, 0.75), edgecolor='blue', linewidth=0.8, zorder=3)
axt.quiver(arw_x, arw_y, arw_u, arw_v, angles='xy', scale_units='xy', scale=1,
           width=0.003, headwidth=2.4, headlength=2.8, headaxislength=2.5,
           color='black', zorder=4)
axt.plot(obst_x, obst_y, color='magenta', ls=(0, (4, 1.5, 1, 1.5)), lw=1.5, zorder=5,
         clip_on=False)
axt.legend(loc='upper left', bbox_to_anchor=(0.01, 0.9), frameon=False, fontsize=7,
           handlelength=4.5, handletextpad=0.15, labelspacing=0.5, borderpad=0,
           borderaxespad=0)

fig.savefig('out.png', dpi=100)
